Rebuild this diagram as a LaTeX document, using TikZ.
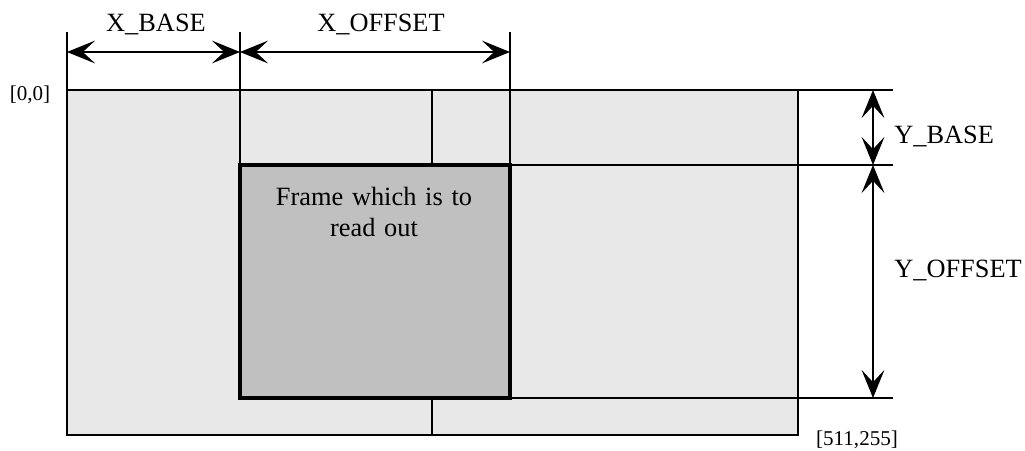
\documentclass[tikz,border=0pt]{standalone}
\usepackage{fontspec}
\setmainfont{Liberation Serif}
\usetikzlibrary{arrows.meta}
\definecolor{areagray}{HTML}{E8E8E8}
\definecolor{framegray}{HTML}{C0C0C0}
\tikzset{
  dimline/.style={{Stealth[length=16pt,width=13pt,inset=7pt]}-{Stealth[length=16pt,width=13pt,inset=7pt]},line width=0.6pt},
  extline/.style={line width=0.6pt},
  dimlabel/.style={font=\fontsize{15}{17.6}\selectfont},
  cornerlabel/.style={font=\fontsize{12}{14}\selectfont}
}
\begin{document}
\begin{tikzpicture}[x=0.02cm,y=-0.02cm]
  \useasboundingbox (0,0) rectangle (1025,450);
  % whole sensor area
  \draw[fill=areagray,line width=1.2pt] (67,90) rectangle (798,435);
  \draw[line width=1.2pt] (432,90) -- (432,435);
  % frame to read out
  \draw[fill=framegray,line width=2pt] (240,165) rectangle (510,398);
  \node[dimlabel,align=center,text width=6cm] (frame) at (374,212) {Frame which is to\\read out};

  % extension lines
  \coordinate (xa) at (67,52);
  \coordinate (xb) at (240,52);
  \coordinate (xc) at (510,52);
  \coordinate (ya) at (873,90);
  \coordinate (yb) at (873,165);
  \coordinate (yc) at (873,398);
  \draw[extline] (67,32) -- (67,90);
  \draw[extline] (240,32) -- (240,165);
  \draw[extline] (510,32) -- (510,165);
  \draw[extline] (798,90) -- (893,90);
  \draw[extline] (510,165) -- (893,165);
  \draw[extline] (510,398) -- (893,398);

  % dimensions
  \draw[dimline] (xa) -- (xb);
  \draw[dimline] (xb) -- (xc);
  \draw[dimline] (ya) -- (yb);
  \draw[dimline] (yb) -- (yc);
  \node[dimlabel,anchor=base] (xbase) at (156,31) {X\_BASE};
  \node[dimlabel,anchor=base] (xoffset) at (381,31) {X\_OFFSET};
  \node[dimlabel,anchor=base west,inner sep=0pt] (ybase) at (894,143) {Y\_BASE};
  \node[dimlabel,anchor=base west,inner sep=0pt] (yoffset) at (894,277) {Y\_OFFSET};

  % corners
  \node[cornerlabel] (topleft) at (30,95) {[0,0]};
  \node[cornerlabel] (bottomright) at (857,440) {[511,255]};
\end{tikzpicture}
\end{document}
